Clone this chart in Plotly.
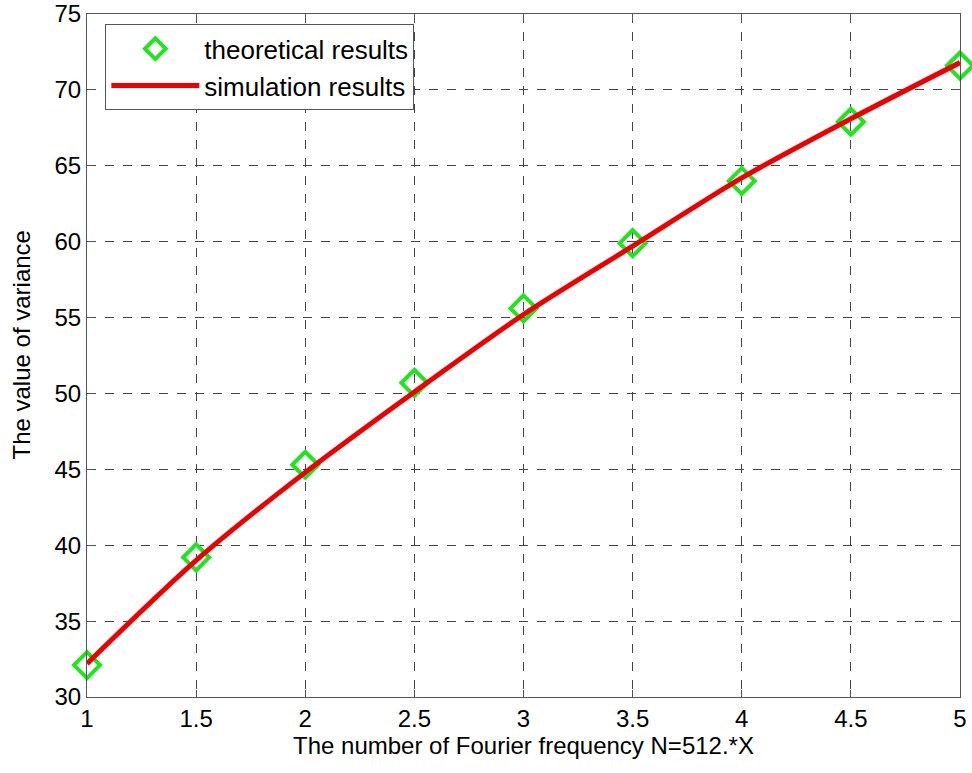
import plotly.graph_objects as go

# Fourier frequency multiplier X (N = 512 * X)
x_vals = [1, 1.5, 2, 2.5, 3, 3.5, 4, 4.5, 5]
# Variance predicted by theory
theory = [32.1, 39.2, 45.3, 50.7, 55.6, 59.9, 64.0, 67.9, 71.6]
# Variance measured by simulation
simulation = [32.2, 39.0, 44.8, 50.1, 55.2, 59.7, 64.2, 68.1, 71.8]

x_ticks = [1, 1.5, 2, 2.5, 3, 3.5, 4, 4.5, 5]
y_ticks = [30, 35, 40, 45, 50, 55, 60, 65, 70, 75]

FONT = "Arial, Liberation Sans, sans-serif"
FS = 24

fig = go.Figure()

fig.add_trace(go.Scatter(
    x=x_vals, y=theory, mode="markers", name="theoretical results",
    cliponaxis=False,
    marker=dict(symbol="diamond-open", size=20, color="#1ee61e",
                line=dict(width=4, color="#1ee61e")),
))
fig.add_trace(go.Scatter(
    x=x_vals, y=simulation, mode="lines", name="simulation results",
    line=dict(color="#ee0000", width=5, shape="spline", smoothing=0.8),
))

axis_common = dict(
    showline=True, linecolor="#555555", linewidth=1, mirror="allticks",
    ticks="inside", ticklen=7, tickcolor="#555555",
    showgrid=True, gridcolor="#444444", griddash="dash", gridwidth=1,
    zeroline=False, ticklabeloverflow="allow", automargin=False,
    tickfont=dict(family=FONT, size=FS, color="#000000"),
)

fig.update_layout(
    width=972, height=773,
    margin=dict(l=87, r=12, t=14, b=76, autoexpand=False),
    paper_bgcolor="white", plot_bgcolor="white",
    font=dict(family=FONT, size=FS, color="#000000"),
    xaxis=dict(range=[0.9999, 5.0001], tickvals=x_ticks,
               ticktext=[f"{v:g}" for v in x_ticks],
               title=dict(text="The number of Fourier frequency N=512.*X",
                          font=dict(family=FONT, size=FS), standoff=6),
               **axis_common),
    yaxis=dict(range=[29.999, 75.001], tickvals=y_ticks, **axis_common),
    legend=dict(x=0.021, y=0.985, xanchor="left", yanchor="top",
                bgcolor="white", bordercolor="#555555", borderwidth=1,
                font=dict(family=FONT, size=26), itemwidth=88,
                tracegroupgap=2),
    showlegend=True,
)

# Vertical axis label
fig.add_annotation(
    text="The value of variance", textangle=-90, showarrow=False,
    xref="paper", yref="paper", x=-0.0745, y=0.516,
    xanchor="center", yanchor="middle",
    font=dict(family=FONT, size=FS, color="#000000"),
)

fig.write_html("out.html")
